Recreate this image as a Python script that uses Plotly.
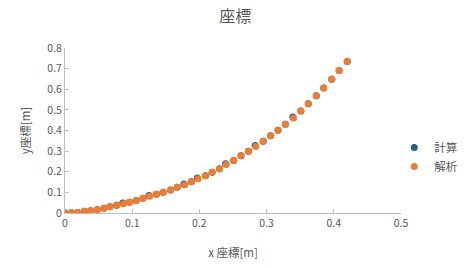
import plotly.graph_objects as go

# 解析 (orange) points
x_analysis = [0.000, 0.0095, 0.019, 0.029, 0.038, 0.048, 0.058, 0.067, 0.077, 0.087,
              0.096, 0.106, 0.116, 0.126, 0.136, 0.146, 0.157, 0.167, 0.178, 0.188,
              0.198, 0.209, 0.219, 0.230, 0.240, 0.251, 0.262, 0.273, 0.284, 0.295,
              0.306, 0.317, 0.328, 0.340, 0.351, 0.362, 0.374, 0.385, 0.397, 0.408,
              0.420]
y_analysis = [0.000, 0.001, 0.003, 0.008, 0.011, 0.016, 0.023, 0.030, 0.037, 0.045,
              0.052, 0.061, 0.071, 0.081, 0.091, 0.101, 0.112, 0.125, 0.137, 0.151,
              0.166, 0.181, 0.198, 0.215, 0.235, 0.255, 0.277, 0.299, 0.323, 0.348,
              0.374, 0.401, 0.430, 0.461, 0.494, 0.530, 0.568, 0.606, 0.649, 0.691,
              0.735]

# 計算 (blue) points
x_calc = [0.000, 0.0095, 0.019, 0.029, 0.038, 0.048, 0.058, 0.067, 0.077, 0.086,
          0.096, 0.106, 0.116, 0.125, 0.136, 0.146, 0.157, 0.167, 0.177, 0.188,
          0.197, 0.209, 0.219, 0.230, 0.239, 0.251, 0.262, 0.273, 0.283, 0.295,
          0.306, 0.317, 0.328, 0.339, 0.351, 0.362, 0.374, 0.385, 0.397, 0.408,
          0.420]
y_calc = [0.000, 0.001, 0.003, 0.008, 0.011, 0.016, 0.023, 0.030, 0.037, 0.049,
          0.052, 0.061, 0.071, 0.085, 0.091, 0.101, 0.112, 0.125, 0.141, 0.151,
          0.170, 0.181, 0.198, 0.215, 0.239, 0.255, 0.277, 0.299, 0.327, 0.348,
          0.374, 0.401, 0.430, 0.465, 0.494, 0.530, 0.568, 0.606, 0.649, 0.691,
          0.735]

series_names = ["計算", "解析"]
series_colors = ["#255E91", "#ED7D31"]

x_ticks = [0, 0.1, 0.2, 0.3, 0.4, 0.5]
y_ticks = [0, 0.1, 0.2, 0.3, 0.4, 0.5, 0.6, 0.7, 0.8]

font_family = "Noto Sans CJK JP, Noto Sans, sans-serif"
grey = "#595959"

fig = go.Figure()
fig.add_trace(go.Scatter(x=x_calc, y=y_calc, mode="markers", name=series_names[0],
                         marker=dict(color=series_colors[0], size=7, line=dict(width=0))))
fig.add_trace(go.Scatter(x=x_analysis, y=y_analysis, mode="markers", name=series_names[1],
                         marker=dict(color=series_colors[1], size=7, line=dict(width=0))))

fig.update_layout(
    width=466, height=268,
    margin=dict(l=65, r=65, t=48, b=55, autoexpand=False),
    paper_bgcolor="white", plot_bgcolor="white",
    font=dict(family=font_family, color=grey, size=10),
    title=dict(text="座標", x=0.505, xanchor="center", y=0.94, yanchor="middle",
               font=dict(size=16, color=grey)),
    legend=dict(x=0.98, xanchor="left", y=0.34, yanchor="middle",
                font=dict(size=11.5, color=grey), itemwidth=30,
                bgcolor="rgba(0,0,0,0)"),
    showlegend=True,
)
fig.update_xaxes(range=[0, 0.5], tickvals=x_ticks, ticktext=[str(v) for v in x_ticks],
                 showgrid=False, zeroline=False, showline=True, linecolor="#BFBFBF",
                 linewidth=1, ticks="inside", ticklen=4, tickcolor="#BFBFBF",
                 tickfont=dict(size=10.5, color=grey),
                 title=dict(text="x 座標[m]", font=dict(size=11.5, color=grey), standoff=20))
fig.update_yaxes(range=[0, 0.8], tickvals=y_ticks, ticktext=[str(v) for v in y_ticks],
                 showgrid=False, zeroline=False, showline=True, linecolor="#BFBFBF",
                 linewidth=1, ticks="inside", ticklen=4, tickcolor="#BFBFBF",
                 tickfont=dict(size=10.5, color=grey),
                 title=dict(text="y座標[m]", font=dict(size=11.5, color=grey), standoff=14))

fig.write_html("out.html")
